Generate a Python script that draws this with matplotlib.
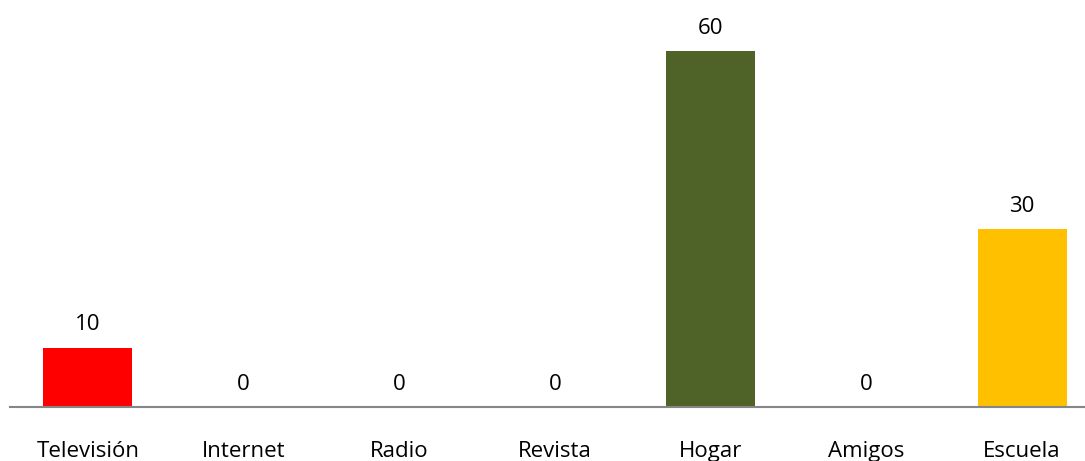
import matplotlib
matplotlib.use("Agg")
import matplotlib.pyplot as plt

categories = ["Televisión", "Internet", "Radio", "Revista", "Hogar", "Amigos", "Escuela"]
values = [10, 0, 0, 0, 60, 0, 30]
colors = ["#FF0000", "#4F81BD", "#4F81BD", "#4F81BD", "#4F6228", "#4F81BD", "#FFC000"]

plt.rcParams['font.family'] = ['Open Sans', 'DejaVu Sans']

W, H = 1085, 461
fig = plt.figure(figsize=(W / 100, H / 100), dpi=100)
# axes in pixel coords: left 10, right 1100, baseline 407, top (value 60) 51
ax = fig.add_axes([10 / W, (H - 407) / H, 1090 / W, (407 - 51) / H])

x = range(len(categories))
bars = ax.bar(x, values, width=0.572, color=colors)
ax.set_xlim(-0.5, len(categories) - 0.5)
ax.set_ylim(0, 60)

for b, v in zip(bars, values):
    ax.annotate(str(v), (b.get_x() + b.get_width() / 2, v), xytext=(0, 12.5),
                textcoords="offset points", ha="center", va="baseline",
                fontsize=16, color="#000000", annotation_clip=False)

ax.set_xticks(list(x))
ax.set_xticklabels(categories, fontsize=16, color="#000000")
for lbl in ax.get_xticklabels():
    lbl.set_va("baseline")
ax.tick_params(axis="x", length=0, pad=36)
ax.set_yticks([])
for s in ["top", "right", "left"]:
    ax.spines[s].set_visible(False)
ax.spines["bottom"].set_color("#868686")
ax.spines["bottom"].set_linewidth(1.5)

fig.savefig("out.png", dpi=100)
